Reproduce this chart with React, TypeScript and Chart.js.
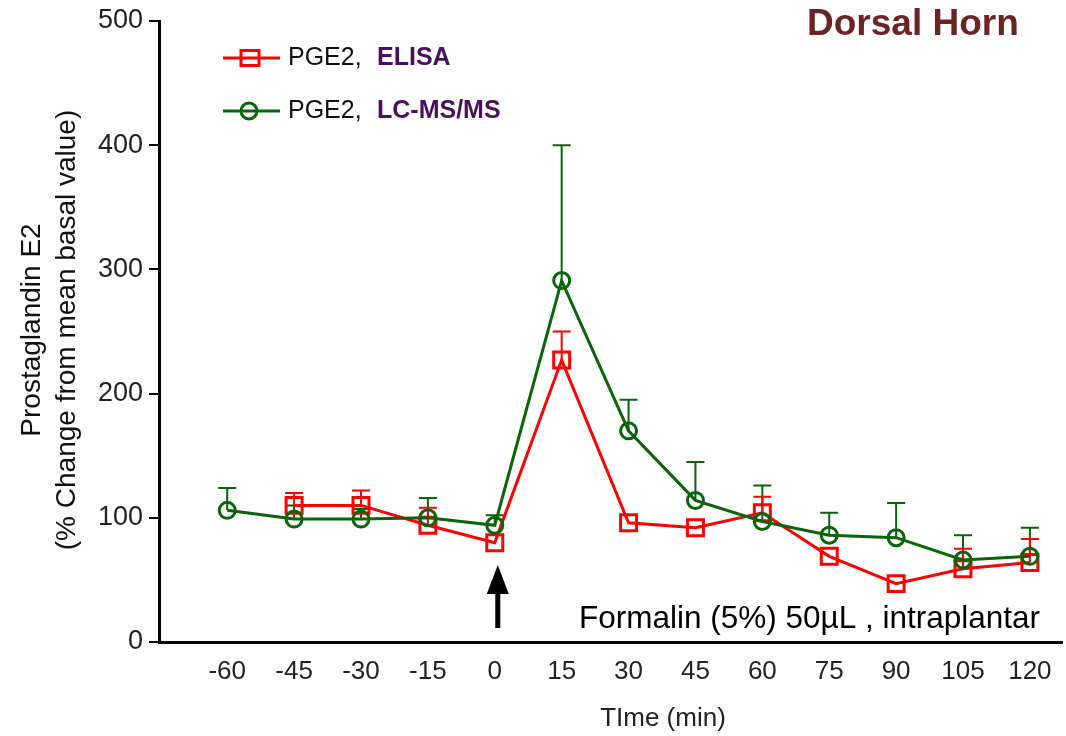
import React, { useEffect, useRef } from "react";
import { Chart, registerables } from "chart.js";

Chart.register(...registerables);

const timePoints = [-60, -45, -30, -15, 0, 15, 30, 45, 60, 75, 90, 105, 120];
const elisaMean = [null, 110, 110, 94, 80, 227, 96, 92, 104, 69, 47, 59, 64];
const elisaErr = [null, 10, 12, 14, 0, 23, 0, 0, 13, 0, 0, 16, 19];
const lcmsMean = [106, 99, 99, 100, 94, 291, 170, 114, 97, 86, 84, 66, 69];
const lcmsErr = [18, 11, 8, 16, 8, 109, 25, 31, 29, 18, 28, 20, 23];
const yTicks = [0, 100, 200, 300, 400, 500];
const xTicks = timePoints;

const RED = "#ff0000";
const GREEN = "#0a640a";
const PURPLE = "#4a0f5e";
const FONT = "'Liberation Sans', Arial, sans-serif";

const overlay = {
  id: "overlay",
  beforeDatasetsDraw(chart: any) {
    const ctx = chart.ctx;
    const xs = chart.scales.x;
    const ys = chart.scales.y;
    const series = [
      { mean: lcmsMean, err: lcmsErr, color: GREEN },
      { mean: elisaMean, err: elisaErr, color: RED },
    ];
    ctx.save();
    ctx.lineWidth = 2;
    for (const s of series) {
      ctx.strokeStyle = s.color;
      timePoints.forEach((t, i) => {
        const m = s.mean[i];
        const e = s.err[i];
        if (m == null || !e) return;
        const x = xs.getPixelForValue(t);
        const y0 = ys.getPixelForValue(m);
        const y1 = ys.getPixelForValue(m + e);
        ctx.beginPath();
        ctx.moveTo(x, y0);
        ctx.lineTo(x, y1);
        ctx.moveTo(x - 9, y1);
        ctx.lineTo(x + 9, y1);
        ctx.stroke();
      });
    }
    ctx.restore();
  },
  afterDraw(chart: any) {
    const ctx = chart.ctx;
    const xs = chart.scales.x;
    ctx.save();

    // Title
    ctx.fillStyle = "#6b2424";
    ctx.font = `bold 37px ${FONT}`;
    ctx.textAlign = "left";
    ctx.textBaseline = "alphabetic";
    ctx.fillText("Dorsal Horn", 807, 35);

    // Legend
    const legendRows = [
      { y: 58, color: RED, style: "rect", label: "ELISA" },
      { y: 111, color: GREEN, style: "circle", label: "LC-MS/MS" },
    ];
    for (const r of legendRows) {
      ctx.strokeStyle = r.color;
      ctx.lineWidth = 3;
      ctx.beginPath();
      ctx.moveTo(223, r.y);
      ctx.lineTo(280, r.y);
      ctx.stroke();
      ctx.beginPath();
      if (r.style === "rect") {
        ctx.rect(250 - 9, r.y - 7.5, 18, 15);
      } else {
        ctx.arc(249, r.y, 8, 0, Math.PI * 2);
      }
      ctx.stroke();
      ctx.textBaseline = "middle";
      ctx.textAlign = "left";
      ctx.font = `25px ${FONT}`;
      ctx.fillStyle = "#111";
      ctx.fillText("PGE2,", 288, r.y);
      ctx.font = `bold 25px ${FONT}`;
      ctx.fillStyle = PURPLE;
      ctx.fillText(r.label, 377, r.y);
    }

    // Y axis title
    ctx.fillStyle = "#111";
    ctx.font = `28px ${FONT}`;
    ctx.textAlign = "center";
    ctx.textBaseline = "middle";
    ctx.save();
    ctx.translate(32, 330);
    ctx.rotate(-Math.PI / 2);
    ctx.fillText("Prostaglandin E2", 0, 0);
    ctx.restore();
    ctx.save();
    ctx.translate(67, 330);
    ctx.rotate(-Math.PI / 2);
    ctx.fillText("(% Change from mean basal value)", 0, 0);
    ctx.restore();

    // X axis title
    ctx.font = `26px ${FONT}`;
    ctx.fillStyle = "#222";
    ctx.fillText("TIme (min)", 663, 719);

    // Annotation
    ctx.font = `31.5px ${FONT}`;
    ctx.fillStyle = "#000";
    ctx.textAlign = "left";
    ctx.textBaseline = "alphabetic";
    ctx.fillText("Formalin (5%) 50\u00b5L , intraplantar", 579, 628);

    // Arrow at injection time
    const ax = xs.getPixelForValue(0) + 3;
    ctx.fillStyle = "#000";
    ctx.fillRect(ax - 2.5, 590, 5, 38);
    ctx.beginPath();
    ctx.moveTo(ax, 565);
    ctx.lineTo(ax - 11, 594);
    ctx.lineTo(ax + 11, 594);
    ctx.closePath();
    ctx.fill();

    ctx.restore();
  },
};

export default function App() {
  const ref = useRef<HTMLCanvasElement | null>(null);

  useEffect(() => {
    document.body.style.margin = "0";
    const canvas = ref.current;
    if (!canvas) return;
    const chart = new Chart(canvas, {
      type: "line",
      data: {
        datasets: [
          {
            label: "PGE2, ELISA",
            data: timePoints.map((t, i) => ({ x: t, y: elisaMean[i] })) as any,
            borderColor: RED,
            borderWidth: 3,
            pointStyle: "rect",
            pointRadius: 11.3,
            pointBorderWidth: 3,
            pointBorderColor: RED,
            pointBackgroundColor: "rgba(0,0,0,0)",
            fill: false,
            tension: 0,
            order: 1,
          },
          {
            label: "PGE2, LC-MS/MS",
            data: timePoints.map((t, i) => ({ x: t, y: lcmsMean[i] })) as any,
            borderColor: GREEN,
            borderWidth: 3,
            pointStyle: "circle",
            pointRadius: 8,
            pointBorderWidth: 3,
            pointBorderColor: GREEN,
            pointBackgroundColor: "rgba(0,0,0,0)",
            fill: false,
            tension: 0,
            order: 0,
          },
        ],
      },
      options: {
        animation: false,
        responsive: false,
        maintainAspectRatio: false,
        layout: { autoPadding: false, padding: { top: 21, right: 4, left: 0, bottom: 0 } },
        plugins: {
          legend: { display: false },
          title: { display: false },
          tooltip: { enabled: false },
        },
        scales: {
          x: {
            type: "linear",
            min: -75.3,
            max: 127.2,
            afterBuildTicks: (s: any) => {
              s.ticks = xTicks.map((v) => ({ value: v }));
            },
            afterFit: (s: any) => {
              s.height = 94;
              s.paddingLeft = 0;
              s.paddingRight = 0;
            },
            grid: { display: true, drawOnChartArea: false, drawTicks: false },
            border: { display: true, color: "#000", width: 3 },
            ticks: {
              font: { family: FONT, size: 26 },
              color: "#222",
              padding: 14,
              maxRotation: 0,
              autoSkip: false,
            },
          },
          y: {
            type: "linear",
            min: 0,
            max: 500,
            afterBuildTicks: (s: any) => {
              s.ticks = yTicks.map((v) => ({ value: v }));
            },
            afterFit: (s: any) => {
              s.width = 159;
              s.paddingTop = 0;
              s.paddingBottom = 0;
            },
            grid: {
              display: true,
              drawOnChartArea: false,
              drawTicks: true,
              tickLength: 10,
              color: "#000",
              lineWidth: 2,
            },
            border: { display: true, color: "#000", width: 3 },
            ticks: {
              font: { family: FONT, size: 27 },
              color: "#222",
              padding: 6,
            },
          },
        },
      },
      plugins: [overlay],
    });
    return () => chart.destroy();
  }, []);

  return (
    <div style={{ width: 1066, height: 736 }}>
      <canvas ref={ref} width={1066} height={736} style={{ display: "block" }} />
    </div>
  );
}
